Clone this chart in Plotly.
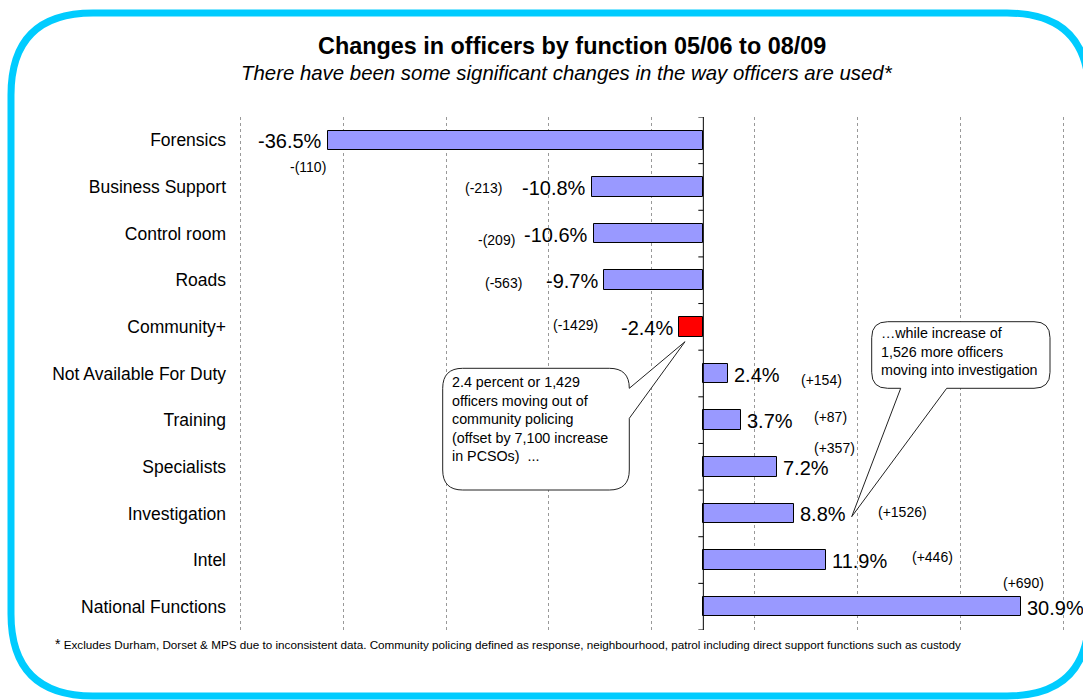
import plotly.graph_objects as go

# ---- data -------------------------------------------------------------
functions = [
    "Forensics", "Business Support", "Control room", "Roads", "Community+",
    "Not Available For Duty", "Training", "Specialists", "Investigation",
    "Intel", "National Functions",
]
pct_change = [-36.5, -10.8, -10.6, -9.7, -2.4, 2.4, 3.7, 7.2, 8.8, 11.9, 30.9]
officer_change = [
    "-(110)", "(-213)", "-(209)", "(-563)", "(-1429)", "(+154)",
    "(+87)", "(+357)", "(+1526)", "(+446)", "(+690)",
]
highlight = "Community+"
grid_vals = [-45, -35, -25, -15, -5, 5, 15, 25, 35]

# ---- page geometry ------------------------------------------------------
W, H = 1083, 700
L, R, T, B = 230, 10, 117, 70
PW, PH = W - L - R, H - T - B
PX_PER_PCT = 10.29
XMIN = -46
XMAX = XMIN + PW / PX_PER_PCT

FONT = "Liberation Sans, Arial, sans-serif"
BAR_BLUE = "#9999FF"
BAR_RED = "#FF0000"
CYAN = "#00CCFF"


def pxx(x):
    """page pixel x -> paper x"""
    return (x - L) / PW


def pxy(y):
    """page pixel y -> paper y"""
    return (H - B - y) / PH


def rounded_path(x0, y0, x1, y1, r, wedge=None):
    """Rounded rectangle (page pixels), optional callout wedge.
    wedge = (side, a, b, tipx, tipy): side 'right' uses y range a..b,
    side 'bottom' uses x range a..b."""
    cmd = []

    def P(x, y):
        return f"{pxx(x):.5f},{pxy(y):.5f}"

    cmd.append(f"M {P(x0 + r, y0)}")
    cmd.append(f"L {P(x1 - r, y0)}")
    cmd.append(f"Q {P(x1, y0)} {P(x1, y0 + r)}")
    if wedge and wedge[0] == "right":
        _, a, b, tx, ty = wedge
        cmd.append(f"L {P(x1, a)}")
        cmd.append(f"L {P(tx, ty)}")
        cmd.append(f"L {P(x1, b)}")
    cmd.append(f"L {P(x1, y1 - r)}")
    cmd.append(f"Q {P(x1, y1)} {P(x1 - r, y1)}")
    if wedge and wedge[0] == "bottom":
        _, a, b, tx, ty = wedge
        cmd.append(f"L {P(b, y1)}")
        cmd.append(f"L {P(tx, ty)}")
        cmd.append(f"L {P(a, y1)}")
    cmd.append(f"L {P(x0 + r, y1)}")
    cmd.append(f"Q {P(x0, y1)} {P(x0, y1 - r)}")
    cmd.append(f"L {P(x0, y0 + r)}")
    cmd.append(f"Q {P(x0, y0)} {P(x0 + r, y0)}")
    cmd.append("Z")
    return " ".join(cmd)


ypos = list(range(len(functions)))
colors = [BAR_RED if f == highlight else BAR_BLUE for f in functions]

fig = go.Figure()
fig.add_trace(go.Bar(
    x=pct_change, y=ypos, orientation="h", width=0.42,
    marker=dict(color=colors, line=dict(color="black", width=1)),
    hoverinfo="skip", showlegend=False,
))

annotations = []

# percentage labels at the bar ends
for v, yv in zip(pct_change, ypos):
    annotations.append(dict(
        x=v, y=yv, xref="x", yref="y", text=f"{v:.1f}%", showarrow=False,
        xanchor="right" if v < 0 else "left", yanchor="middle",
        xshift=-4 if v < 0 else 4, yshift=-1,
        font=dict(family=FONT, size=20, color="black"),
    ))

# officer-count labels placed beside each bar
count_pos = [
    (-38.4, 0.57), (-21.4, 1.02), (-20.1, 2.14), (-19.4, 3.05),
    (-12.4, 3.96), (11.5, 5.14), (12.4, 5.94), (12.7, 6.59),
    (19.4, 7.98), (22.3, 8.93), (31.1, 9.50),
]
for txt, (cx, cy) in zip(officer_change, count_pos):
    annotations.append(dict(
        x=cx, y=cy, xref="x", yref="y", text=txt, showarrow=False,
        xanchor="center", yanchor="middle",
        font=dict(family=FONT, size=14, color="black"),
    ))

# title and subtitle
annotations.append(dict(
    x=pxx(572), y=pxy(46), xref="paper", yref="paper",
    text="<b>Changes in officers by function 05/06 to 08/09</b>",
    showarrow=False, xanchor="center", yanchor="middle",
    font=dict(family=FONT, size=23.4, color="black"),
))
annotations.append(dict(
    x=pxx(566.5), y=pxy(73), xref="paper", yref="paper",
    text="<i>There have been some significant changes in the way officers are used*</i>",
    showarrow=False, xanchor="center", yanchor="middle",
    font=dict(family=FONT, size=20.4, color="black"),
))

# callout texts
annotations.append(dict(
    x=pxx(450), y=pxy(418.5), xref="paper", yref="paper",
    text=("2.4 percent or 1,429<br>officers moving out of<br>community policing"
          "<br>(offset by 7,100 increase<br>in PCSOs)  ..."),
    showarrow=False, xanchor="left", yanchor="middle", align="left",
    font=dict(family=FONT, size=14.3, color="black"),
))
annotations.append(dict(
    x=pxx(878.5), y=pxy(351.7), xref="paper", yref="paper",
    text="…while increase of<br>1,526 more officers<br>moving into investigation",
    showarrow=False, xanchor="left", yanchor="middle", align="left",
    font=dict(family=FONT, size=14.3, color="black"),
))

# footnote
annotations.append(dict(
    x=pxx(53), y=pxy(644), xref="paper", yref="paper",
    text=("<span style='font-size:14px'>*</span> Excludes Durham, Dorset &amp; MPS due to "
          "inconsistent data. Community policing defined as response, neighbourhood, "
          "patrol including direct support functions such as custody"),
    showarrow=False, xanchor="left", yanchor="middle",
    font=dict(family=FONT, size=11.7, color="black"),
))

shapes = []

# zero axis with ticks between categories
shapes.append(dict(type="line", xref="x", yref="paper", x0=0, x1=0, y0=0, y1=1,
                   line=dict(color="black", width=1)))
for k in range(len(functions) + 1):
    shapes.append(dict(type="line", xref="x", yref="y", xsizemode="pixel",
                       xanchor=0, x0=-5, x1=0, y0=k - 0.5, y1=k - 0.5,
                       line=dict(color="black", width=1)))

# callout bubbles
shapes.append(dict(
    type="path", xref="paper", yref="paper",
    path=rounded_path(442.7, 368.3, 629.3, 490, 20,
                      wedge=("right", 388.3, 418.3, 685, 341.7)),
    fillcolor="white", line=dict(color="#222222", width=1), layer="above",
))
shapes.append(dict(
    type="path", xref="paper", yref="paper",
    path=rounded_path(871.7, 321.7, 1050, 388.3, 16,
                      wedge=("bottom", 900.7, 946.7, 851.7, 516.7)),
    fillcolor="white", line=dict(color="#222222", width=1), layer="above",
))

# rounded page frame
shapes.append(dict(
    type="path", xref="paper", yref="paper",
    path=rounded_path(11, 13, 1089, 696, 82),
    fillcolor="rgba(0,0,0,0)", line=dict(color=CYAN, width=7), layer="above",
))

fig.update_layout(
    width=W, height=H,
    margin=dict(l=L, r=R, t=T, b=B, pad=0),
    paper_bgcolor="white", plot_bgcolor="white",
    xaxis=dict(range=[XMIN, XMAX], tickvals=grid_vals, showticklabels=False,
               showgrid=True, gridcolor="#999999", gridwidth=1, griddash="dot",
               zeroline=False, showline=False, ticks="", fixedrange=True),
    yaxis=dict(range=[len(functions) - 0.5, -0.5], tickvals=ypos,
               ticktext=functions, showgrid=False, zeroline=False,
               showline=False, ticks="", ticklabelstandoff=3,
               tickfont=dict(family=FONT, size=17.5, color="black"),
               fixedrange=True),
    annotations=annotations,
    shapes=shapes,
    bargap=0,
)

fig.write_html("out.html", config={"displayModeBar": False})
